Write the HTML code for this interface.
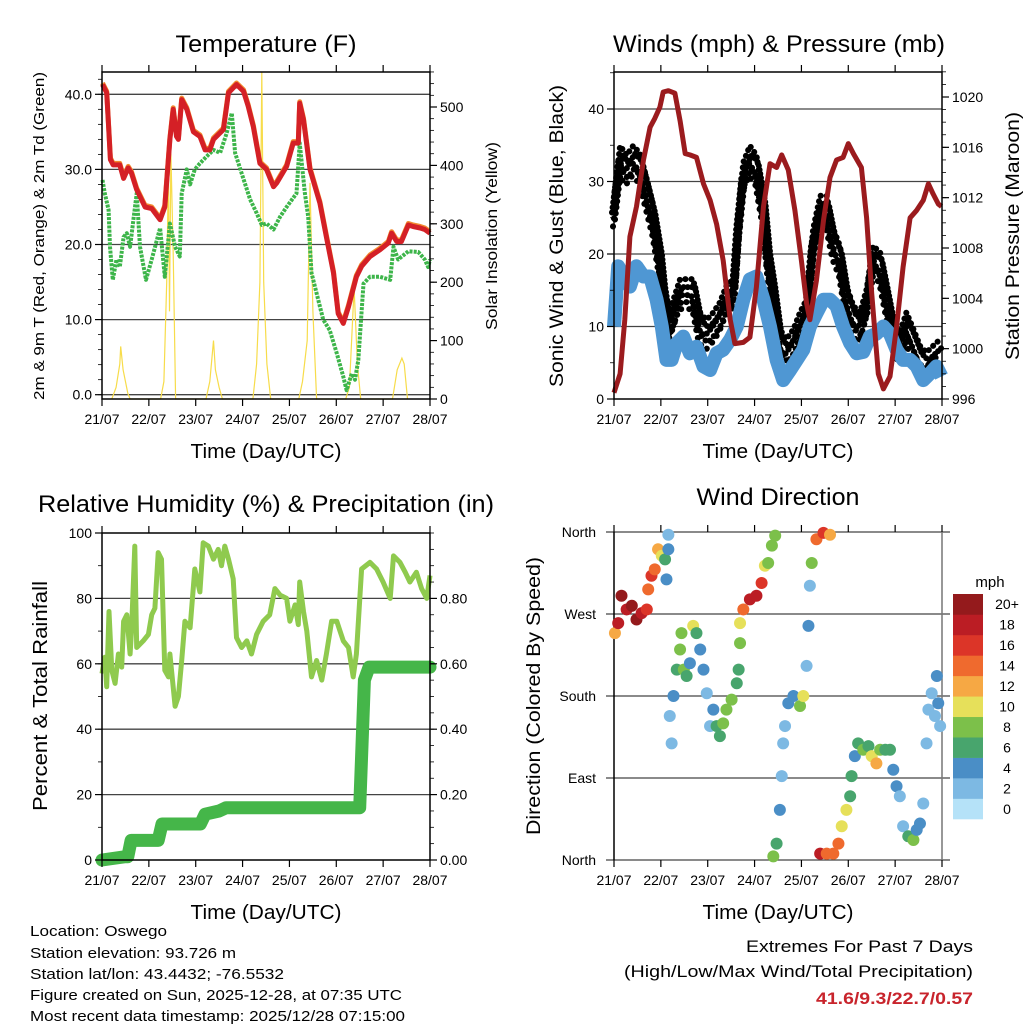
<!DOCTYPE html>
<html><head><meta charset="utf-8"><style>
html,body{margin:0;padding:0;background:#fff}
svg{display:block;font-family:"Liberation Sans",sans-serif}
</style></head><body>
<svg id="fig" width="1024" height="1024" viewBox="0 0 1024 1024" xmlns="http://www.w3.org/2000/svg">
<g id="static">
<text x="266" y="52" font-size="24" text-anchor="middle" textLength="181" lengthAdjust="spacingAndGlyphs">Temperature (F)</text>
<text x="779" y="52" font-size="24" text-anchor="middle" textLength="332" lengthAdjust="spacingAndGlyphs">Winds (mph) &amp; Pressure (mb)</text>
<text x="266" y="512" font-size="24" text-anchor="middle" textLength="456" lengthAdjust="spacingAndGlyphs">Relative Humidity (%) &amp; Precipitation (in)</text>
<text x="778" y="505" font-size="24" text-anchor="middle" textLength="163" lengthAdjust="spacingAndGlyphs">Wind Direction</text>
<text x="266" y="458" font-size="20" text-anchor="middle" textLength="151" lengthAdjust="spacingAndGlyphs">Time (Day/UTC)</text>
<text x="778" y="458" font-size="20" text-anchor="middle" textLength="151" lengthAdjust="spacingAndGlyphs">Time (Day/UTC)</text>
<text x="266" y="919" font-size="20" text-anchor="middle" textLength="151" lengthAdjust="spacingAndGlyphs">Time (Day/UTC)</text>
<text x="778" y="919" font-size="20" text-anchor="middle" textLength="151" lengthAdjust="spacingAndGlyphs">Time (Day/UTC)</text>
<text transform="translate(44,236) rotate(-90)" font-size="15" text-anchor="middle" textLength="328" lengthAdjust="spacingAndGlyphs">2m &amp; 9m T (Red, Orange) &amp; 2m Td (Green)</text>
<text transform="translate(497,236) rotate(-90)" font-size="16" text-anchor="middle" textLength="188" lengthAdjust="spacingAndGlyphs">Solar Insolation (Yellow)</text>
<text transform="translate(563,236) rotate(-90)" font-size="19" text-anchor="middle" textLength="302" lengthAdjust="spacingAndGlyphs">Sonic Wind &amp; Gust (Blue, Black)</text>
<text transform="translate(1019,236) rotate(-90)" font-size="19" text-anchor="middle" textLength="248" lengthAdjust="spacingAndGlyphs">Station Pressure (Maroon)</text>
<text transform="translate(47,696) rotate(-90)" font-size="20" text-anchor="middle" textLength="230" lengthAdjust="spacingAndGlyphs">Percent &amp; Total Rainfall</text>
<text transform="translate(540,696) rotate(-90)" font-size="19" text-anchor="middle" textLength="278" lengthAdjust="spacingAndGlyphs">Direction (Colored By Speed)</text>
<g font-size="15">
<text x="30" y="936" textLength="137" lengthAdjust="spacingAndGlyphs">Location: Oswego</text>
<text x="30" y="958" textLength="206" lengthAdjust="spacingAndGlyphs">Station elevation: 93.726 m</text>
<text x="30" y="979" textLength="254" lengthAdjust="spacingAndGlyphs">Station lat/lon: 43.4432; -76.5532</text>
<text x="30" y="1000" textLength="372" lengthAdjust="spacingAndGlyphs">Figure created on Sun, 2025-12-28, at 07:35 UTC</text>
<text x="30" y="1021" textLength="375" lengthAdjust="spacingAndGlyphs">Most recent data timestamp: 2025/12/28 07:15:00</text>
</g>
<text x="973" y="952" font-size="17" text-anchor="end" textLength="227" lengthAdjust="spacingAndGlyphs">Extremes For Past 7 Days</text>
<text x="973" y="977" font-size="17" text-anchor="end" textLength="349" lengthAdjust="spacingAndGlyphs">(High/Low/Max Wind/Total Precipitation)</text>
<text x="973" y="1004" font-size="17" font-weight="bold" fill="#c8242c" text-anchor="end" textLength="157" lengthAdjust="spacingAndGlyphs">41.6/9.3/22.7/0.57</text>
<text x="990" y="587" font-size="15" text-anchor="middle">mph</text>
</g>
<g id="dyn"></g>
</svg>
<script>
// ---------- data ----------
const dayLabels=["21/07","22/07","23/07","24/07","25/07","26/07","27/07","28/07"];
const tempDays=[0.01,0.10,0.14,0.18,0.24,0.38,0.46,0.56,0.63,0.74,0.92,1.06,1.24,1.34,1.45,1.52,1.59,1.63,1.70,1.81,1.95,2.09,2.20,2.30,2.38,2.59,2.70,2.87,3.02,3.12,3.23,3.37,3.51,3.66,3.73,3.94,4.08,4.19,4.22,4.30,4.44,4.65,4.79,4.94,5.04,5.15,5.26,5.43,5.54,5.72,5.93,6.11,6.18,6.29,6.39,6.54,6.64,6.79,6.89,7.0];
const tempVals=[41.3,40.2,35.7,31.3,30.6,30.6,28.8,30.2,29.5,27.3,25,24.8,23.3,25,34,38,34.4,34,39.3,38,35,34.4,32.6,32.6,34,35.3,40.2,41.3,40.4,38.4,35.7,30.8,30,27.7,28.2,30.4,33.5,33.5,38.8,36.6,30,25.5,21,16.2,10.8,9.5,11.7,15.7,17.1,18.4,19.3,20.2,21.5,20.4,20.4,22.6,22.4,22.2,22,21.5];
const dewDays=[0.01,0.06,0.14,0.17,0.23,0.31,0.38,0.46,0.53,0.60,0.67,0.74,0.81,0.94,1.06,1.24,1.34,1.45,1.56,1.66,1.70,1.81,1.88,1.98,2.09,2.23,2.38,2.52,2.66,2.77,2.84,2.98,3.16,3.30,3.41,3.51,3.66,3.80,3.94,4.15,4.22,4.33,4.40,4.47,4.58,4.72,4.86,5.01,5.15,5.22,5.33,5.40,5.47,5.58,5.72,5.93,6.15,6.22,6.32,6.54,6.75,6.89,6.96,7.0];
const dewVals=[28.6,26.8,24.6,19.7,15.3,18,17,21,21.5,19.7,23.3,26.8,19.7,15.3,18,22.2,15.7,22.8,19.7,18.4,26.8,30,28,30,30.8,31.7,32.6,32.2,34.8,37.5,32.2,29.5,26,24.2,22.6,22.8,22,23.7,25,26.8,33.5,26.8,23.7,16.2,13.5,10,8.6,5.5,2.4,0.6,2.8,2,4.6,14.8,15.7,15.7,15.3,19.7,18,19.1,19,18,17,18];
const solarDays=[0.21,0.3,0.38,0.4,0.45,0.55,0.6,1.25,1.32,1.38,1.42,1.44,1.47,1.52,1.57,2.22,2.3,2.38,2.42,2.5,2.57,3.22,3.3,3.37,3.41,3.45,3.52,3.6,4.2,4.28,4.38,4.44,4.5,4.58,5.2,5.28,5.38,5.45,5.52,6.2,6.3,6.4,6.45,6.52];
const solarVals=[0,20,60,90,50,10,0,0,30,200,400,150,420,250,0,0,30,100,50,20,0,0,60,200,560,200,60,0,0,30,100,370,150,0,0,20,190,60,0,0,50,70,60,0];
const presDays=[0,0.13,0.23,0.34,0.48,0.63,0.77,0.87,0.98,1.05,1.16,1.30,1.41,1.52,1.62,1.76,1.91,2.05,2.19,2.33,2.48,2.58,2.76,2.90,3.04,3.19,3.33,3.47,3.58,3.72,3.86,4.00,4.11,4.18,4.32,4.47,4.61,4.75,4.89,5.00,5.11,5.28,5.39,5.50,5.64,5.75,5.89,6.03,6.17,6.32,6.46,6.60,6.71,6.81,6.92,6.99];
const presVals=[996.5,998,1002.3,1008.9,1011.3,1015,1017.6,1018.3,1019.2,1020.4,1020.5,1020.3,1018.1,1015.5,1015.4,1015.2,1013.1,1011.8,1009.9,1007,1002.3,1000.4,1000.5,1000.9,1004.9,1011.3,1014.7,1014.4,1015.4,1014.2,1011,1007,1003.6,1002.3,1005.4,1010.2,1013.6,1015,1015.2,1016.3,1015.5,1014.4,1010.4,1004.4,998,996.8,997.8,1001.7,1006.5,1010.4,1011,1011.8,1013.1,1012.3,1011.5,1011.3];
const windDays=[0,0.09,0.20,0.34,0.48,0.63,0.77,0.91,1.02,1.12,1.23,1.34,1.48,1.62,1.76,1.91,2.05,2.19,2.33,2.48,2.62,2.76,2.90,3.04,3.19,3.33,3.47,3.61,3.76,3.90,4.04,4.18,4.32,4.47,4.61,4.75,4.89,5.04,5.18,5.32,5.46,5.60,5.75,5.89,6.03,6.17,6.32,6.46,6.60,6.74,6.88,6.99];
const windVals=[10,18.3,17,15.5,18.3,16.9,16.9,13.7,10,5.4,5.4,7.7,8.6,6.3,7.2,4.5,4,6.3,6.8,8.2,10,13.7,16.5,16.9,13.7,10,5.4,2.6,4,5.4,6.8,10,11.8,13.7,13.7,12.8,10,7.7,6.3,6.5,8.6,9,10,9,6.8,5.4,5.4,4.5,2.6,3.5,4.5,3.1];
const gustDays=[0,0.13,0.27,0.41,0.55,0.70,0.84,0.98,1.05,1.16,1.27,1.41,1.55,1.69,1.83,1.98,2.12,2.26,2.40,2.55,2.65,2.76,2.90,3.04,3.19,3.29,3.40,3.54,3.68,3.83,3.97,4.11,4.25,4.40,4.54,4.68,4.82,4.96,5.11,5.25,5.39,5.53,5.68,5.82,5.96,6.10,6.24,6.39,6.53,6.67,6.81,6.96];
const gustVals=[26,33,31.7,33,32,28.4,24.7,19.2,14.6,10,11.8,14.6,14.6,14.6,10,9,10,11.4,13.7,14.6,23.8,30.7,33,31.7,26.1,19.2,14.6,7.7,6.3,7.7,10,11.8,21.5,26.1,26.1,21.5,19.2,13.7,10.9,10,13.2,19.2,18.3,13.7,9,7.2,10,7.7,5.4,4.5,5.4,6.3];
const rhDays=[0,0.06,0.10,0.15,0.21,0.28,0.35,0.42,0.46,0.53,0.60,0.63,0.70,0.74,0.88,0.99,1.06,1.13,1.20,1.27,1.34,1.42,1.45,1.56,1.63,1.70,1.77,1.88,1.98,2.09,2.16,2.27,2.38,2.48,2.55,2.62,2.70,2.80,2.87,2.98,3.09,3.19,3.30,3.44,3.58,3.69,3.80,3.94,4.01,4.12,4.19,4.22,4.30,4.37,4.47,4.58,4.69,4.79,4.90,5.01,5.15,5.26,5.36,5.43,5.54,5.72,5.86,6.00,6.15,6.22,6.36,6.47,6.57,6.71,6.82,6.93,7.0];
const rhVals=[57,62,53,76,58,54,63,59,73,75,63,70,96,65,67,69,75,77,94,92,58,56,63,47,50,61,73,71,89,82,97,96,92,95,90,96,92,86,68,65,67,63,69,73,75,83,81,80,73,78,72,85,76,70,56,61,55,63,73,73,67,65,56,63,89,91,89,85,80,93,91,88,85,88,83,80,87];
const prcpDays=[0,0.5,0.55,0.62,1.2,1.28,2.1,2.2,2.5,2.65,5.5,5.6,5.7,7.0];
const prcpVals=[0,0.01,0.01,0.06,0.06,0.11,0.11,0.14,0.15,0.16,0.16,0.55,0.59,0.59];
const dirDays=[0.02,0.09,0.16,0.27,0.38,0.48,0.59,0.70,0.73,0.80,0.87,0.94,1.02,1.09,1.16,1.16,1.12,1.19,1.23,1.27,1.34,1.41,1.44,1.49,1.55,1.62,1.69,1.76,1.84,1.91,1.98,2.05,2.12,2.19,2.26,2.33,2.40,2.51,2.62,2.66,2.69,2.69,2.76,2.90,3.04,3.15,3.22,3.29,3.37,3.44,3.40,3.47,3.54,3.58,3.61,3.65,3.72,3.83,3.97,4.04,4.11,4.15,4.18,4.22,4.32,4.47,4.61,4.40,4.54,4.68,4.79,4.86,4.96,5.04,5.07,5.14,5.21,5.32,5.43,5.50,5.60,5.68,5.79,5.89,5.96,6.03,6.10,6.17,6.28,6.39,6.46,6.53,6.60,6.67,6.71,6.78,6.85,6.92,6.96,6.89];
const dirVals=[249,260,290,275,279,264,271,275,297,312,319,341,334,330,341,357,308,158,128,180,209,231,249,209,202,216,257,249,231,209,183,147,165,147,136,150,165,176,194,209,238,260,275,286,290,304,323,326,345,356,4,18,55,92,128,147,172,180,169,180,213,257,301,326,352,359,357,7,7,7,18,37,55,70,92,114,128,121,125,114,106,121,121,121,99,81,70,37,26,22,33,40,62,128,165,183,158,172,147,202];
const dirSpeeds=[12,18,20,18,20,20,18,16,14,16,14,12,10,6,4,2,4,2,2,4,6,8,8,8,6,4,10,6,4,4,2,2,4,6,6,8,8,8,6,6,8,10,14,18,18,16,10,8,8,8,8,6,4,2,2,2,4,4,8,10,2,4,2,8,14,16,12,18,14,14,14,10,10,6,6,4,6,8,6,10,12,8,6,6,4,4,2,2,6,8,4,4,2,2,2,2,2,4,2,4];
const speedBins=["0","2","4","6","8","10","12","14","16","18","20+"];
const binColors=["#b5e2f8","#7db9e3","#4a8ec6","#48a56d","#7cc04a","#e6e05a","#f6a844","#ef6a2e","#dc3528","#bb1d24","#941a1c"];

// ---------- helpers ----------
const NS="http://www.w3.org/2000/svg";
const dyn=document.getElementById('dyn');
function mk(tag,attrs,parent){const e=document.createElementNS(NS,tag);for(const k in attrs)e.setAttribute(k,attrs[k]);(parent||dyn).appendChild(e);return e;}
function lin(d0,d1,r0,r1){return v=>r0+(v-d0)*(r1-r0)/(d1-d0);}
function pathOf(xs,ys,fx,fy){let s="";for(let i=0;i<xs.length;i++){s+=(i?"L":"M")+fx(xs[i]).toFixed(1)+","+fy(ys[i]).toFixed(1);}return s;}
function txt(x,y,s,size,anchor,parent){const t=mk('text',{x:x,y:y,'font-size':size,'text-anchor':anchor},parent);t.textContent=s;return t;}

const P1={l:102,r:430,t:72,b:399}, P2={l:614,r:942,t:72,b:399}, P3={l:102,r:430,t:533,b:860}, P4={l:614,r:942,t:532,b:860};
function xAxis(P,name,top){
  const fx=lin(0,7,P.l,P.r);
  const g=mk('g',{});
  
  
  for(let i=0;i<dayLabels.length;i++){
    const x=fx(i);
    mk('line',{x1:x,x2:x,y1:P.b,y2:P.b+7,stroke:'#000','stroke-width':1.2},g);
    if(top) mk('line',{x1:x,x2:x,y1:P.t-7,y2:P.t,stroke:'#000','stroke-width':1.2},g);
    const t=txt(x,P.b+25,dayLabels[i],14,'middle',g);
    t.setAttribute('textLength','35');t.setAttribute('lengthAdjust','spacingAndGlyphs');
  }
  return fx;
}
function frame(P,name){
  const r=mk('rect',{x:P.l,y:P.t,width:P.r-P.l,height:P.b-P.t,fill:'none',stroke:'#000','stroke-width':1.5});
  
  
}
function hgrid(P,ys,fy,ext){
  ys.forEach(v=>{const y=fy(v);const l=mk('line',{x1:P.l-(ext||0),x2:P.r+(ext||0),y1:y,y2:y,stroke:'#444','stroke-width':1.3});
  
  });
}
function yTicks(P,vals,labels,fy,side,minorStep,dmin,dmax,name){
  const g=mk('g',{});
  
  
  const x0=side==='l'?P.l:P.r, dir=side==='l'?-1:1;
  vals.forEach((v,i)=>{const y=fy(v);
    mk('line',{x1:x0,x2:x0+dir*7,y1:y,y2:y,stroke:'#000','stroke-width':1.2},g);
    txt(side==='l'?x0-10:x0+10,y+5,labels[i],14,side==='l'?'end':'start',g);});
  if(minorStep){for(let v=dmin;v<=dmax+1e-9;v+=minorStep){const y=fy(v);mk('line',{x1:x0,x2:x0+dir*4,y1:y,y2:y,stroke:'#000','stroke-width':0.8},g);}}
}

// ---------- Panel 1 ----------
(function(){
  const fx=lin(0,7,P1.l,P1.r);
  const fy=lin(0,40,394.7,94.3);
  const fs=lin(0,500,399,107);
  hgrid(P1,[0,10,20,30,40],fy);
  const sol=mk('path',{d:pathOf(solarDays,solarVals,fx,fs),fill:'none',stroke:'#f7dc4a','stroke-width':1.2});
  
  
  const dew=mk('path',{d:pathOf(dewDays,dewVals,fx,fy),fill:'none',stroke:'#3db54a','stroke-width':4,'stroke-dasharray':'3 1.2','stroke-linejoin':'round'});
  
  
  const o=mk('path',{d:pathOf(tempDays,tempVals,fx,fy),fill:'none',stroke:'#f28a2e','stroke-width':5,'stroke-linejoin':'round',transform:'translate(0,-1.5)'});
  
  
  const r=mk('path',{d:pathOf(tempDays,tempVals,fx,fy),fill:'none',stroke:'#d42026','stroke-width':5,'stroke-linejoin':'round'});
  
  
  frame(P1,'temp-plot-frame');
  xAxis(P1,'temp-x-axis',true);
  yTicks(P1,[0,10,20,30,40],["0.0","10.0","20.0","30.0","40.0"],fy,'l',2,0,42,'temp-y-axis');
  yTicks(P1,[0,100,200,300,400,500],["0","100","200","300","400","500"],fs,'r',20,0,560,'solar-y-axis');
})();

// ---------- Panel 2 ----------
(function(){
  const fx=lin(0,7,P2.l,P2.r);
  const fy=lin(0,40,399,109);
  const fp=lin(996,1020,399,97);
  hgrid(P2,[10,20,30,40],fy);
  const gg=mk('g',{});
  
  
  [[0,-14,'0.1 6'],[2,-6,'0.1 4'],[-2,2,'0.1 5'],[1,9,'0.1 6'],[-1,16,'0.1 8']].forEach(o=>{
    mk('path',{d:pathOf(gustDays,gustVals,fx,fy),fill:'none',stroke:'#000','stroke-width':6,'stroke-linecap':'round','stroke-linejoin':'round','stroke-dasharray':o[2],transform:'translate('+o[0]+','+o[1]+')'},gg);
  });
  const wi=mk('path',{d:pathOf(windDays,windVals,fx,fy),fill:'none',stroke:'#4f97d3','stroke-width':14,'stroke-linejoin':'round'});
  
  
  const pr=mk('path',{d:pathOf(presDays,presVals,fx,fp),fill:'none',stroke:'#9b1b1e','stroke-width':5,'stroke-linejoin':'round'});
  
  
  frame(P2,'wind-plot-frame');
  xAxis(P2,'wind-x-axis',true);
  yTicks(P2,[0,10,20,30,40],["0","10","20","30","40"],fy,'l',5,0,45,'wind-y-axis');
  yTicks(P2,[996,1000,1004,1008,1012,1016,1020],["996","1000","1004","1008","1012","1016","1020"],fp,'r',1,996,1022,'pressure-y-axis');
})();

// ---------- Panel 3 ----------
(function(){
  const fx=lin(0,7,P3.l,P3.r);
  const fy=lin(0,100,860,533);
  const fr=lin(0,1,860,533);
  hgrid(P3,[20,40,60,80],fy);
  const rh=mk('path',{d:pathOf(rhDays,rhVals,fx,fy),fill:'none',stroke:'#8fca4e','stroke-width':5,'stroke-linejoin':'round'});
  
  
  const pc=mk('path',{d:pathOf(prcpDays,prcpVals,fx,fr),fill:'none',stroke:'#45b649','stroke-width':13,'stroke-linejoin':'round','stroke-linecap':'round'});
  
  
  frame(P3,'rh-plot-frame');
  xAxis(P3,'rh-x-axis',true);
  yTicks(P3,[0,20,40,60,80,100],["0","20","40","60","80","100"],fy,'l',10,0,100,'rh-y-axis');
  yTicks(P3,[0,0.2,0.4,0.6,0.8],["0.00","0.20","0.40","0.60","0.80"],fr,'r',0.05,0,1,'precip-y-axis');
})();

// ---------- Panel 4 ----------
(function(){
  const fx=lin(0,7,P4.l,P4.r);
  const fy=lin(0,360,860,532);
  hgrid(P4,[0,90,180,270,360],fy,8);
  mk('line',{x1:P4.l,x2:P4.l,y1:P4.t,y2:P4.b,stroke:'#000','stroke-width':1.5});
  mk('line',{x1:P4.r,x2:P4.r,y1:P4.t,y2:P4.b,stroke:'#777','stroke-width':1.5});
  const g=mk('g',{});
  
  
  for(let i=0;i<dirDays.length;i++){
    const bin=Math.min(10,Math.floor(dirSpeeds[i]/2));
    const c=mk('circle',{cx:fx(dirDays[i]),cy:fy(dirVals[i]),r:6,fill:binColors[bin]},g);
    
    
  }
  xAxis(P4,'dir-x-axis',true);
  const names=["North","East","South","West","North"];
  [0,90,180,270,360].forEach((v,i)=>{const t=txt(596,fy(v)+5,names[i],14,'end');
    
    });
  const cb=mk('g',{});
  
  
  const h=225/speedBins.length;
  for(let i=0;i<speedBins.length;i++){
    const y=819-(i+1)*h;
    const r=mk('rect',{x:953,y:y,width:30,height:h+0.3,fill:binColors[i]},cb);
    
    
    txt(1007,y+h/2+5,speedBins[i],14,'middle',cb);
  }
})();
</script>
</body></html>
